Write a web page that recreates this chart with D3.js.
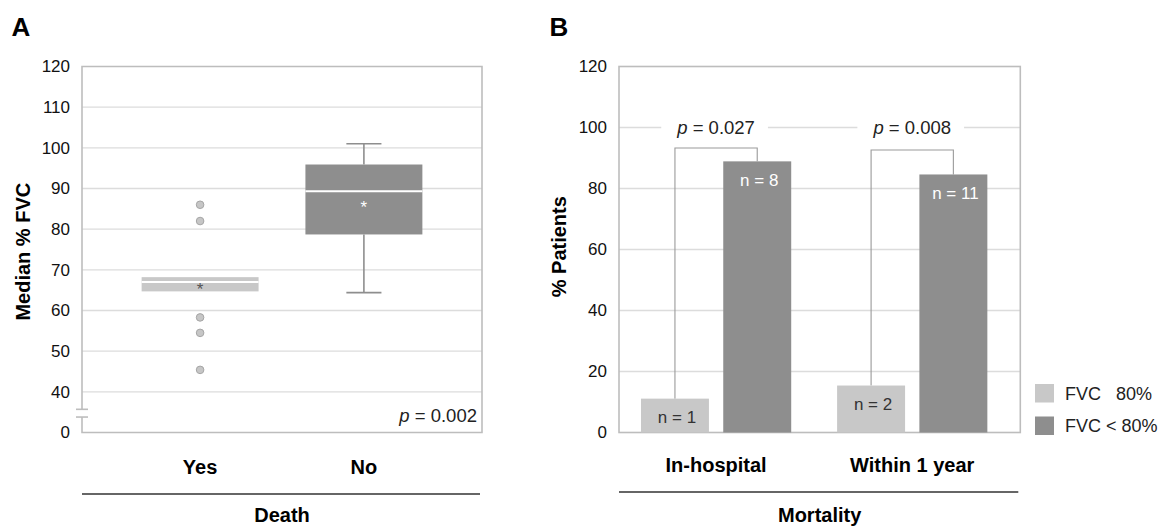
<!DOCTYPE html>
<html><head><meta charset="utf-8">
<script src="https://cdn.jsdelivr.net/npm/d3@7"></script>
<style>
body{margin:0;background:#fff}
svg{display:block}
text{font-family:"Liberation Sans",Arial,Helvetica,sans-serif}
</style>
</head><body>
<svg id="c" width="1163" height="526"></svg>
<script>
// ---------- Panel A data ----------
const deathGroups = ["Yes", "No"];
const boxQ1 = [64.7, 78.7];
const boxMedian = [67.0, 89.3];
const boxQ3 = [68.2, 95.9];
const whiskerLow = [null, 64.4];
const whiskerHigh = [null, 101];
const boxMean = [66.1, 86.1];
const yesOutliers = [86, 82, 58.3, 54.5, 45.4];
const panelATickValues = [30, 40, 50, 60, 70, 80, 90, 100, 110, 120];
const panelATickLabels = ["0", "40", "50", "60", "70", "80", "90", "100", "110", "120"];
const pValueA = "0.002";

// ---------- Panel B data ----------
const mortalityGroups = ["In-hospital", "Within 1 year"];
const fvcSeries = ["FVC   80%", "FVC < 80%"];
const fvcHighPct = [11.1, 15.4];
const fvcLowPct = [88.9, 84.6];
const fvcHighN = [1, 2];
const fvcLowN = [8, 11];
const bracketTop = [93.3, 92.6];
const pValuesB = ["0.027", "0.008"];
const panelBTicks = [0, 20, 40, 60, 80, 100, 120];

const LIGHT = "#c8c8c8", DARK = "#8e8e8e", FRAME = "#bdbdbd", GRID = "#dcdcdc";
const svg = d3.select("#c");

// =============== Panel A ===============
const A = {l: 82, r: 482, t: 66.5, b: 432.5};
const xA = d3.scaleBand().domain(deathGroups).range([A.l, A.r]).paddingInner(0.286).paddingOuter(0.364);
const yA = d3.scaleLinear().domain([30, 120]).range([A.b, A.t]);
const gA = svg.append("g");

gA.append("g").selectAll("line").data(panelATickValues.filter(v => v > 30 && v < 120)).join("line")
  .attr("x1", A.l).attr("x2", A.r).attr("y1", d => yA(d)).attr("y2", d => yA(d))
  .attr("stroke", GRID).attr("stroke-width", 1.3);

const axA = gA.append("g").attr("transform", `translate(${A.l},0)`)
  .call(d3.axisLeft(yA).tickValues(panelATickValues).tickFormat((d, i) => panelATickLabels[i]).tickSize(0).tickPadding(12));
axA.select(".domain").remove();
axA.selectAll("text").attr("font-size", 17).attr("fill", "#111").style("font-family", '"Liberation Sans",Arial,sans-serif');

const brkHi = 35.7, brkLo = 33.8;
gA.append("path").attr("fill", "none").attr("stroke", FRAME).attr("stroke-width", 1.6)
  .attr("d", `M${A.l},${yA(brkHi)}V${A.t}H${A.r}V${A.b}H${A.l}V${yA(brkLo)}`);
gA.append("g").selectAll("line").data([brkHi, brkLo]).join("line")
  .attr("x1", A.l - 6).attr("x2", A.l + 6).attr("y1", d => yA(d)).attr("y2", d => yA(d))
  .attr("stroke", FRAME).attr("stroke-width", 1.6);

deathGroups.forEach((g, i) => {
  if (whiskerHigh[i] == null) return;
  const cx = xA(g) + xA.bandwidth() / 2, cw = xA.bandwidth() * 0.15;
  const w = gA.append("g").attr("stroke", DARK).attr("stroke-width", 1.6);
  w.append("line").attr("x1", cx).attr("x2", cx).attr("y1", yA(boxQ3[i])).attr("y2", yA(whiskerHigh[i]));
  w.append("line").attr("x1", cx).attr("x2", cx).attr("y1", yA(boxQ1[i])).attr("y2", yA(whiskerLow[i]));
  w.append("line").attr("x1", cx - cw).attr("x2", cx + cw).attr("y1", yA(whiskerHigh[i])).attr("y2", yA(whiskerHigh[i]));
  w.append("line").attr("x1", cx - cw).attr("x2", cx + cw).attr("y1", yA(whiskerLow[i])).attr("y2", yA(whiskerLow[i]));
});

const boxColors = [LIGHT, DARK];
gA.append("g").selectAll("rect").data(deathGroups).join("rect")
  .attr("x", d => xA(d)).attr("width", xA.bandwidth())
  .attr("y", (d, i) => yA(boxQ3[i])).attr("height", (d, i) => yA(boxQ1[i]) - yA(boxQ3[i]))
  .attr("fill", (d, i) => boxColors[i]);
gA.append("g").selectAll("line").data(deathGroups).join("line")
  .attr("x1", d => xA(d)).attr("x2", d => xA(d) + xA.bandwidth())
  .attr("y1", (d, i) => yA(boxMedian[i])).attr("y2", (d, i) => yA(boxMedian[i]))
  .attr("stroke", "#fff").attr("stroke-width", 2);
gA.append("g").selectAll("text").data(deathGroups).join("text")
  .attr("x", d => xA(d) + xA.bandwidth() / 2).attr("y", (d, i) => yA(boxMean[i]) + 9)
  .attr("text-anchor", "middle").attr("font-size", 17)
  .attr("fill", (d, i) => i === 0 ? "#555" : "#fff").text("*");

gA.append("g").selectAll("circle").data(yesOutliers).join("circle")
  .attr("cx", xA("Yes") + xA.bandwidth() / 2).attr("cy", d => yA(d)).attr("r", 3.8)
  .attr("fill", "#c6c6c6").attr("stroke", "#a5a5a5").attr("stroke-width", 1);

const pA = gA.append("text").attr("x", 477).attr("y", 421.5).attr("text-anchor", "end").attr("font-size", 18.5).attr("fill", "#222");
pA.append("tspan").attr("font-style", "italic").text("p");
pA.append("tspan").text(" = " + pValueA);

gA.append("g").selectAll("text").data(deathGroups).join("text")
  .attr("x", d => xA(d) + xA.bandwidth() / 2).attr("y", 474)
  .attr("text-anchor", "middle").attr("font-size", 20).attr("font-weight", "bold").text(d => d);
gA.append("line").attr("x1", A.l).attr("x2", A.r - 2).attr("y1", 494).attr("y2", 494).attr("stroke", "#333").attr("stroke-width", 1.5);
gA.append("text").attr("x", (A.l + A.r) / 2).attr("y", 522).attr("text-anchor", "middle")
  .attr("font-size", 20).attr("font-weight", "bold").text("Death");
gA.append("text").attr("transform", "translate(29.5,251.7) rotate(-90)").attr("text-anchor", "middle")
  .attr("font-size", 20).attr("font-weight", "bold").text("Median % FVC");
svg.append("text").attr("x", 11.5).attr("y", 35.7).attr("font-size", 26).attr("font-weight", "bold").text("A");

// =============== Panel B ===============
const B = {l: 619, r: 1020.3, t: 66.5, b: 432.5};
const xB0 = d3.scaleBand().domain(mortalityGroups).range([B.l, B.r]).paddingInner(0.234).paddingOuter(0.14).align(0.4);
const xB1 = d3.scaleBand().domain([0, 1]).range([0, xB0.bandwidth()]).paddingInner(0.174);
const yB = d3.scaleLinear().domain([0, 120]).range([B.b, B.t]);
const gB = svg.append("g");

gB.append("g").selectAll("line").data(panelBTicks.filter(v => v > 0 && v < 120)).join("line")
  .attr("x1", B.l).attr("x2", B.r).attr("y1", d => yB(d)).attr("y2", d => yB(d))
  .attr("stroke", GRID).attr("stroke-width", 1.3);
const axB = gB.append("g").attr("transform", `translate(${B.l},0)`)
  .call(d3.axisLeft(yB).tickValues(panelBTicks).tickSize(0).tickPadding(12));
axB.select(".domain").remove();
axB.selectAll("text").attr("font-size", 17).attr("fill", "#111").style("font-family", '"Liberation Sans",Arial,sans-serif');
gB.append("rect").attr("x", B.l).attr("y", B.t).attr("width", B.r - B.l).attr("height", B.b - B.t)
  .attr("fill", "none").attr("stroke", FRAME).attr("stroke-width", 1.6);

// p labels on the 100 line
const pBg = gB.append("g"), pTx = gB.append("g");
mortalityGroups.forEach((g, i) => {
  const cx = xB0(g) + xB0.bandwidth() / 2;
  const t = pTx.append("text").attr("x", cx).attr("y", yB(100) + 6.5).attr("text-anchor", "middle")
    .attr("font-size", 18.5).attr("fill", "#222");
  t.append("tspan").attr("font-style", "italic").text("p");
  t.append("tspan").text(" = " + pValuesB[i]);
  const bb = t.node().getBBox();
  pBg.append("rect").attr("x", bb.x - 15).attr("y", yB(100) - 3).attr("width", bb.width + 28).attr("height", 6).attr("fill", "#fff");
});

// brackets
mortalityGroups.forEach((g, i) => {
  const x1 = xB0(g) + xB1(0) + xB1.bandwidth() / 2, x2 = xB0(g) + xB1(1) + xB1.bandwidth() / 2;
  gB.append("path").attr("fill", "none").attr("stroke", "#9a9a9a").attr("stroke-width", 1.1)
    .attr("d", `M${x1},${yB(fvcHighPct[i])}V${yB(bracketTop[i])}H${x2}V${yB(fvcLowPct[i])}`);
});

// bars
const seriesVals = [fvcHighPct, fvcLowPct], seriesN = [fvcHighN, fvcLowN], seriesCol = [LIGHT, DARK], labCol = ["#333", "#fff"];
mortalityGroups.forEach((g, i) => {
  [0, 1].forEach(s => {
    const v = seriesVals[s][i];
    gB.append("rect").attr("x", xB0(g) + xB1(s)).attr("width", xB1.bandwidth())
      .attr("y", yB(v)).attr("height", yB(0) - yB(v)).attr("fill", seriesCol[s]);
    gB.append("text").attr("x", xB0(g) + xB1(s) + xB1.bandwidth() / 2 + 2).attr("y", yB(v) + 24.5)
      .attr("text-anchor", "middle").attr("font-size", 17).attr("fill", labCol[s]).text("n = " + seriesN[s][i]);
  });
});

// legend
fvcSeries.forEach((name, s) => {
  const ly = 384 + s * 32.5;
  svg.append("rect").attr("x", 1035).attr("y", ly).attr("width", 19).attr("height", 18.5).attr("fill", seriesCol[s]);
  svg.append("text").attr("x", 1065).attr("y", ly + 15.5).attr("font-size", 18).attr("fill", "#222")
    .style("white-space", "pre").text(name);
});

gB.append("g").selectAll("text").data(mortalityGroups).join("text")
  .attr("x", d => xB0(d) + xB0.bandwidth() / 2).attr("y", 472)
  .attr("text-anchor", "middle").attr("font-size", 20).attr("font-weight", "bold").text(d => d);
gB.append("line").attr("x1", B.l).attr("x2", B.r - 2).attr("y1", 492).attr("y2", 492).attr("stroke", "#333").attr("stroke-width", 1.5);
gB.append("text").attr("x", (B.l + B.r) / 2).attr("y", 522).attr("text-anchor", "middle")
  .attr("font-size", 20).attr("font-weight", "bold").text("Mortality");
gB.append("text").attr("transform", "translate(566,246.7) rotate(-90)").attr("text-anchor", "middle")
  .attr("font-size", 20).attr("font-weight", "bold").text("% Patients");
svg.append("text").attr("x", 549.4).attr("y", 35.7).attr("font-size", 26).attr("font-weight", "bold").text("B");
</script>
</body></html>
